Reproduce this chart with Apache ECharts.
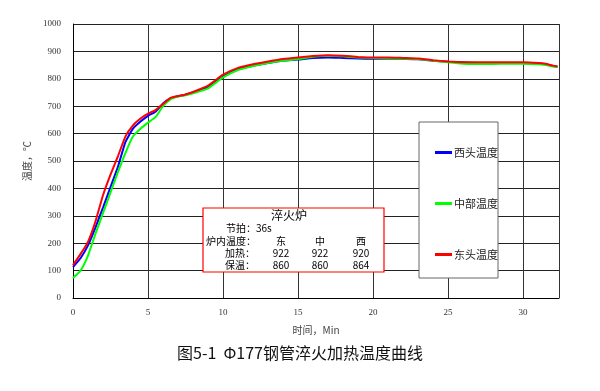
<!DOCTYPE html>
<html><head><meta charset="utf-8">
<script src="https://cdn.jsdelivr.net/npm/echarts@6/dist/echarts.min.js"></script>
<style>html,body{margin:0;padding:0;background:#fff}#c{width:600px;height:391px}</style>
</head><body><div id="c"></div>
<script>
const times = [0,0.5,1,1.5,2,2.5,3,3.5,4,4.5,5,5.5,6,6.5,7,7.5,8,9,10,11,12,13,14,15,16,17,18,19,20,21,22,23,24,25,26,27,28,29,30,31,31.5,32,32.3];
const west = [113,145,192,258,330,405,480,570,618,644,665,680,710,728,736,742,750,770,808,835,848,858,866,870,876,878,876,874,873,873,872,871,866,862,860,858,858,858,858,856,853,847,844];
const middle = [73,100,155,235,310,385,460,530,590,618,640,660,700,725,735,740,747,765,805,832,847,858,866,872,880,884,882,878,876,874,873,872,866,860,855,854,854,855,855,853,850,845,843];
const east = [120,160,205,280,375,450,518,590,630,655,673,686,708,730,737,743,752,775,815,840,853,863,872,878,883,886,884,880,878,878,876,874,868,863,860,860,860,860,860,858,855,848,845];
const seriesNames = ['西头温度','中部温度','东头温度'];
const xTicks = [0,5,10,15,20,25,30];
const yTicks = [0,100,200,300,400,500,600,700,800,900,1000];
const titleText = '图5-1  Φ177钢管淬火加热温度曲线';
const boxTitle = '淬火炉';
const boxRows = [
  ['节拍：36s','','',''],
  ['炉内温度：','东','中','西'],
  ['加热：','922','922','920'],
  ['保温：','860','860','864']
];
const pair = a => times.map((t,i)=>[t,a[i]]);
const chart = echarts.init(document.getElementById('c'));
const serifFont = '"Liberation Serif","DejaVu Serif",serif';
const cjk = '"Noto Sans CJK SC",sans-serif';
const BX=203, BY=208;
const boxEls = [{type:'rect',z:1,shape:{x:BX,y:BY,width:181,height:64},style:{fill:'#fff',stroke:'#f00',lineWidth:1.2}}];
boxEls.push({type:'text',z:2,x:BX+86,y:BY+7,style:{text:boxTitle,font:'12px '+cjk,fill:'#000',textAlign:'center',textVerticalAlign:'middle'}});
const rowY=[20,33,45,57];
boxRows.forEach((r,i)=>{
  const lx = i===0?23:(i===1?3:22);
  boxEls.push({type:'text',z:2,x:BX+lx,y:BY+rowY[i],style:{text:r[0],font:'10px '+cjk,fill:'#000',textVerticalAlign:'middle'}});
  if(i>0)[78,117,158].forEach((cx,j)=>boxEls.push({type:'text',z:2,x:BX+cx,y:BY+rowY[i],style:{text:r[j+1],font:'10px '+cjk,fill:'#000',textAlign:'center',textVerticalAlign:'middle'}}));
});
chart.setOption({
  animation:false,
  grid:{left:73,top:24,right:41,bottom:93},
  title:{text:titleText,left:'center',top:340,textStyle:{fontSize:16,fontWeight:'normal',color:'#111',fontFamily:cjk}},
  legend:{orient:'vertical',left:430,top:142,itemGap:40,itemWidth:17,itemHeight:3,icon:'rect',
    data:seriesNames,textStyle:{fontSize:11,color:'#222',fontFamily:cjk,padding:[0,0,0,-3]}},
  xAxis:{type:'value',min:0,max:32.4,interval:5,
    name:'时间，Min',nameLocation:'middle',nameGap:27,nameTextStyle:{fontSize:10,color:'#444',fontFamily:cjk},
    axisLine:{lineStyle:{color:'#000',width:1}},axisTick:{show:false},
    axisLabel:{fontSize:9,color:'#333',fontFamily:serifFont,margin:10,formatter:v=>xTicks.includes(v)?String(v):''},
    splitLine:{show:true,lineStyle:{color:'#333',width:1}}},
  yAxis:{type:'value',min:0,max:1000,interval:100,
    name:'温度，℃',nameLocation:'middle',nameGap:40,nameRotate:90,nameTextStyle:{fontSize:10,color:'#444',fontFamily:cjk},
    axisLine:{show:true,lineStyle:{color:'#000',width:1}},axisTick:{show:false},
    axisLabel:{fontSize:9,color:'#333',fontFamily:serifFont,margin:12,formatter:v=>yTicks.includes(v)?String(v):''},
    splitLine:{show:true,lineStyle:{color:'#222',width:1}}},
  graphic:[
    {type:'rect',z:1,shape:{x:419,y:122,width:79,height:156},style:{fill:'#fff',stroke:'#666',lineWidth:1}}
  ].concat(boxEls),
  series:[
    {name:seriesNames[0],type:'line',data:pair(west),smooth:0.15,showSymbol:false,lineStyle:{color:'#0000ff',width:2},itemStyle:{color:'#0000ff'},z:3},
    {name:seriesNames[1],type:'line',data:pair(middle),smooth:0.15,showSymbol:false,lineStyle:{color:'#00ff00',width:2},itemStyle:{color:'#00ff00'},z:3},
    {name:seriesNames[2],type:'line',data:pair(east),smooth:0.15,showSymbol:false,lineStyle:{color:'#ff0000',width:2},itemStyle:{color:'#ff0000'},z:4}
  ]
});
</script></body></html>
